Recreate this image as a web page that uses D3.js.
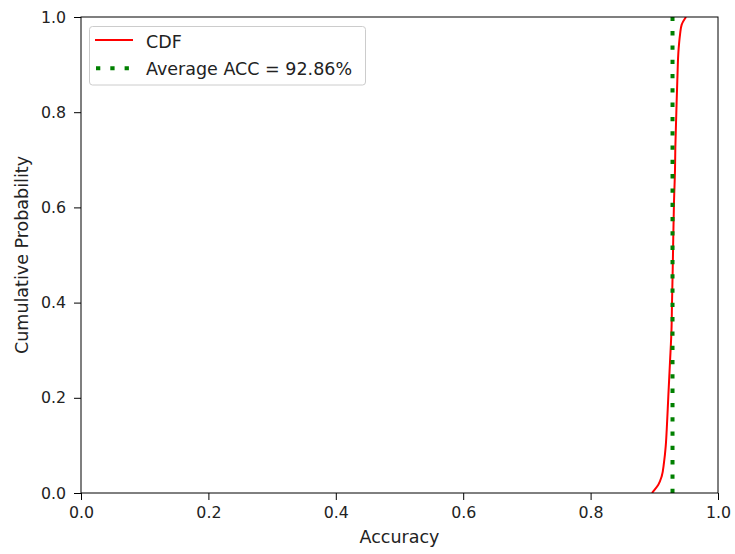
<!DOCTYPE html>
<html>
<head>
<meta charset="utf-8">
<script src="https://cdn.jsdelivr.net/npm/d3@7"></script>
<style>
  body { margin: 0; background: #fff; }
  svg { display: block; font-family: "DejaVu Sans", sans-serif; }
</style>
</head>
<body>
<svg id="chart" width="735" height="554"></svg>
<script>
// CDF curve points
const cdfAcc  = [0.8964, 0.8984, 0.9063, 0.9116, 0.9152, 0.9179, 0.9195, 0.9220, 0.9246, 0.9270, 0.9278, 0.9289, 0.9298, 0.9309, 0.9325, 0.9330, 0.9345, 0.9361, 0.9383, 0.9404, 0.9430, 0.9498];
const cdfProb = [0.000, 0.0034, 0.0174, 0.0349, 0.0637, 0.0979, 0.133, 0.203, 0.274, 0.343, 0.400, 0.469, 0.539, 0.610, 0.679, 0.725, 0.795, 0.865, 0.935, 0.963, 0.984, 1.000];
const avgAcc = 0.9286;
const xTicks = [0.0, 0.2, 0.4, 0.6, 0.8, 1.0];
const yTicks = [0.0, 0.2, 0.4, 0.6, 0.8, 1.0];
const legendLabels = ["CDF", "Average ACC = 92.86%"];

const svg = d3.select("#chart");
const m = { left: 81, right: 718, top: 17, bottom: 493 };

const x = d3.scaleLinear().domain([0, 1]).range([m.left, m.right]);
const y = d3.scaleLinear().domain([0, 1]).range([m.bottom, m.top]);

svg.append("defs").append("clipPath").attr("id", "clip")
  .append("rect").attr("x", m.left).attr("y", m.top)
  .attr("width", m.right - m.left).attr("height", m.bottom - m.top);

const plot = svg.append("g").attr("clip-path", "url(#clip)");

const pts = cdfAcc.map((a, i) => [a, cdfProb[i]]);
plot.append("path")
  .datum(pts)
  .attr("fill", "none")
  .attr("stroke", "red")
  .attr("stroke-width", 2)
  .attr("d", d3.line().x(d => x(d[0])).y(d => y(d[1])).curve(d3.curveMonotoneY));

plot.append("line")
  .attr("x1", x(avgAcc)).attr("x2", x(avgAcc))
  .attr("y1", y(0)).attr("y2", y(1))
  .attr("stroke", "green")
  .attr("stroke-width", 4)
  .attr("stroke-dasharray", "4.3,10");

// axes
const tickFont = 15.8, labelFont = 17.5;
const xAxis = d3.axisBottom(x).tickValues(xTicks).tickFormat(d3.format(".1f")).tickSize(7).tickPadding(7);
const yAxis = d3.axisLeft(y).tickValues(yTicks).tickFormat(d3.format(".1f")).tickSize(7).tickPadding(8);

const gx = svg.append("g").attr("transform", `translate(0,${m.bottom})`).call(xAxis);
const gy = svg.append("g").attr("transform", `translate(${m.left},0)`).call(yAxis);
[gx, gy].forEach(g => {
  g.select(".domain").remove();
  g.selectAll("text").attr("font-size", tickFont).attr("fill", "#222").attr("font-family", "DejaVu Sans");
  g.selectAll("line").attr("stroke", "#000").attr("stroke-width", 1);
});

// frame
svg.append("rect")
  .attr("x", m.left).attr("y", m.top)
  .attr("width", m.right - m.left).attr("height", m.bottom - m.top)
  .attr("fill", "none").attr("stroke", "#000").attr("stroke-width", 1);

// axis labels
svg.append("text").attr("x", (m.left + m.right) / 2).attr("y", 543)
  .attr("text-anchor", "middle").attr("font-size", labelFont).attr("fill", "#222").text("Accuracy");
svg.append("text").attr("transform", `translate(28,${(m.top + m.bottom) / 2}) rotate(-90)`)
  .attr("text-anchor", "middle").attr("font-size", labelFont).attr("fill", "#222").text("Cumulative Probability");

// legend
const lg = svg.append("g");
lg.append("rect").attr("x", 89.5).attr("y", 26.5).attr("width", 276).attr("height", 58.5)
  .attr("rx", 3).attr("fill", "#fff").attr("fill-opacity", 0.8).attr("stroke", "#ccc").attr("stroke-width", 1);
lg.append("line").attr("x1", 95).attr("x2", 133).attr("y1", 40).attr("y2", 40)
  .attr("stroke", "red").attr("stroke-width", 2);
lg.append("line").attr("x1", 96).attr("x2", 133).attr("y1", 68.3).attr("y2", 68.3)
  .attr("stroke", "green").attr("stroke-width", 4).attr("stroke-dasharray", "4.3,10");
lg.selectAll("text.lbl").data(legendLabels).enter().append("text")
  .attr("class", "lbl")
  .attr("x", 146).attr("y", (d, i) => 48 + i * 27)
  .attr("font-size", labelFont).attr("fill", "#222").text(d => d);
</script>
</body>
</html>
